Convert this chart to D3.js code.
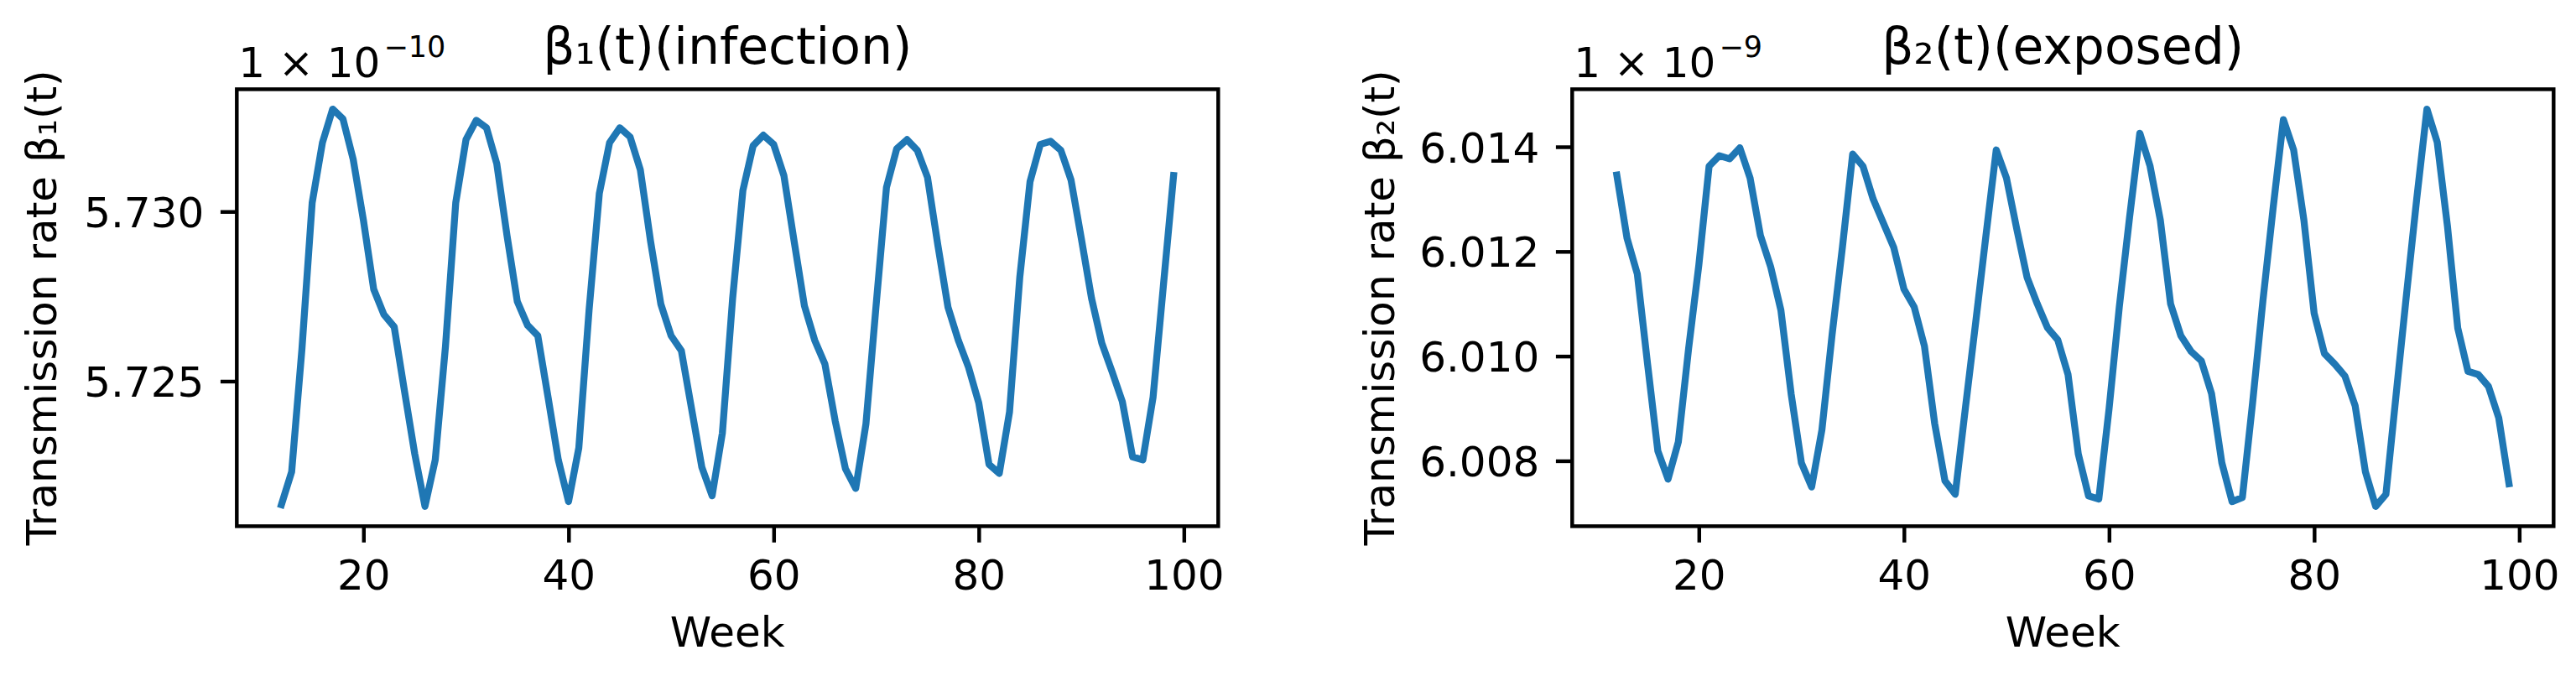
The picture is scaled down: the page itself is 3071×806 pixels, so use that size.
<!DOCTYPE html>
<html>
<head>
<meta charset="utf-8">
<script src="https://cdn.jsdelivr.net/npm/d3@7"></script>
<style>
  body { margin: 0; background: #fff; }
  svg { display: block; }
  text { font-family: "DejaVu Sans", sans-serif; fill: #000; }
</style>
</head>
<body>
<div id="chart"></div>
<script>
const weeks = [12, 13, 14, 15, 16, 17, 18, 19, 20, 21, 22, 23, 24, 25, 26, 27, 28, 29, 30,
  31, 32, 33, 34, 35, 36, 37, 38, 39, 40, 41, 42, 43, 44, 45, 46, 47, 48, 49, 50,
  51, 52, 53, 54, 55, 56, 57, 58, 59, 60, 61, 62, 63, 64, 65, 66, 67, 68, 69, 70,
  71, 72, 73, 74, 75, 76, 77, 78, 79, 80, 81, 82, 83, 84, 85, 86, 87, 88, 89, 90,
  91, 92, 93, 94, 95, 96, 97, 98, 99];

// beta1 in units of 1e-10
const beta1 = [5.72136, 5.72233, 5.72594, 5.73026, 5.73203, 5.73302, 5.73273, 5.73154, 5.72974,
  5.72771, 5.72696, 5.72660, 5.72471, 5.72286, 5.72131, 5.72268, 5.72603, 5.73026, 5.73212,
  5.73269, 5.73247, 5.73141, 5.72929, 5.72735, 5.72665, 5.72634, 5.72453, 5.72268, 5.72145,
  5.72303, 5.72709, 5.73053, 5.73203, 5.73247, 5.73220, 5.73123, 5.72912, 5.72727, 5.72634,
  5.72590, 5.72418, 5.72246, 5.72162, 5.72347, 5.72744, 5.73062, 5.73194, 5.73225, 5.73198,
  5.73106, 5.72912, 5.72722, 5.72621, 5.72550, 5.72383, 5.72242, 5.72184, 5.72374, 5.72727,
  5.73071, 5.73185, 5.73212, 5.73181, 5.73101, 5.72903, 5.72718, 5.72621, 5.72541, 5.72436,
  5.72255, 5.72228, 5.72409, 5.72806, 5.73088, 5.73198, 5.73207, 5.73181, 5.73093, 5.72921,
  5.72744, 5.72612, 5.72528, 5.72440, 5.72277, 5.72268, 5.72453, 5.72780, 5.73106];

// beta2 in units of 1e-9
const beta2 = [6.01346, 6.01225, 6.01157, 6.00985, 6.00819, 6.00765, 6.00836, 6.01014, 6.01174,
  6.01363, 6.01383, 6.01377, 6.01398, 6.01340, 6.01231, 6.01171, 6.01088, 6.00928, 6.00796,
  6.00750, 6.00859, 6.01042, 6.01208, 6.01386, 6.01363, 6.01300, 6.01254, 6.01208, 6.01128,
  6.01094, 6.01019, 6.00871, 6.00762, 6.00736, 6.00902, 6.01065, 6.01231, 6.01394, 6.01340,
  6.01243, 6.01151, 6.01100, 6.01054, 6.01031, 6.00965, 6.00813, 6.00733, 6.00727, 6.00899,
  6.01094, 6.01265, 6.01426, 6.01363, 6.01260, 6.01100, 6.01039, 6.01009, 6.00991, 6.00928,
  6.00796, 6.00722, 6.00730, 6.00911, 6.01105, 6.01283, 6.01452, 6.01394, 6.01260, 6.01082,
  6.01005, 6.00985, 6.00962, 6.00905, 6.00779, 6.00713, 6.00736, 6.00928, 6.01117, 6.01300,
  6.01472, 6.01409, 6.01248, 6.01054, 6.00971, 6.00965, 6.00942, 6.00882, 6.00756];

const weekTicks = [20, 40, 60, 80, 100];
const beta1Ticks = [5.725, 5.730];
const beta2Ticks = [6.008, 6.010, 6.012, 6.014];
const titles = ["β₁(t)(infection)", "β₂(t)(exposed)"];
const yLabels = ["Transmission rate β₁(t)", "Transmission rate β₂(t)"];
const exponents = ["−10", "−9"];

const W = 3071, H = 806;
const axW = 1170, axH = 521, axTop = 106.4;
const spineW = 4.44, tickLen = 19.4;

const svg = d3.select("#chart").append("svg")
  .attr("width", W)
  .attr("height", H)
  .style("background", "#fff");

function pad(ext) {
  const r = ext[1] - ext[0];
  return [ext[0] - 0.05 * r, ext[1] + 0.05 * r];
}

function drawPanel(left, values, yTicks, title, yLabel, expo, labelX) {
  const g = svg.append("g").attr("transform", "translate(" + left + "," + axTop + ")");

  const x = d3.scaleLinear().domain(pad(d3.extent(weeks))).range([0, axW]);
  const y = d3.scaleLinear().domain(pad(d3.extent(values))).range([axH, 0]);

  const line = d3.line()
    .x((d, i) => x(weeks[i]))
    .y(d => y(d));

  g.append("path")
    .datum(values)
    .attr("d", line)
    .attr("fill", "none")
    .attr("stroke", "#1f77b4")
    .attr("stroke-width", 8.3)
    .attr("stroke-linejoin", "round")
    .attr("stroke-linecap", "square");

  const xAxis = g.append("g")
    .attr("transform", "translate(0," + axH + ")")
    .call(d3.axisBottom(x).tickValues(weekTicks).tickSize(tickLen).tickSizeOuter(0).tickFormat(d3.format("d")));
  xAxis.select(".domain").remove();
  xAxis.selectAll("line").attr("stroke", "#000").attr("stroke-width", spineW);
  xAxis.selectAll("text")
    .attr("y", 76).attr("dy", null)
    .attr("font-size", 50).attr("font-family", "DejaVu Sans").attr("fill", "#000");

  const yAxis = g.append("g")
    .call(d3.axisLeft(y).tickValues(yTicks).tickSize(tickLen).tickSizeOuter(0).tickFormat(d3.format(".3f")));
  yAxis.select(".domain").remove();
  yAxis.selectAll("line").attr("stroke", "#000").attr("stroke-width", spineW);
  yAxis.selectAll("text")
    .attr("x", -39).attr("dy", "0.36em")
    .attr("font-size", 50).attr("font-family", "DejaVu Sans").attr("fill", "#000");

  g.append("rect")
    .attr("width", axW)
    .attr("height", axH)
    .attr("fill", "none")
    .attr("stroke", "#000")
    .attr("stroke-width", spineW);

  // offset text (multiplier)
  const off = g.append("text")
    .attr("x", 2)
    .attr("y", 91.5 - axTop)
    .attr("font-size", 50);
  off.append("tspan").text("1 × 10");
  off.append("tspan").attr("dy", -24).attr("dx", 4).attr("font-size", 35).text(expo);

  g.append("text")
    .attr("x", axW / 2)
    .attr("y", 76 - axTop)
    .attr("text-anchor", "middle")
    .attr("font-size", 60)
    .text(title);

  g.append("text")
    .attr("x", axW / 2)
    .attr("y", 771 - axTop)
    .attr("text-anchor", "middle")
    .attr("font-size", 50)
    .text("Week");

  svg.append("text")
    .attr("transform", "translate(" + labelX + "," + (axTop + axH / 2) + ") rotate(-90)")
    .attr("text-anchor", "middle")
    .attr("font-size", 50)
    .text(yLabel);
}

drawPanel(282.3, beta1, beta1Ticks, titles[0], yLabels[0], exponents[0], 66.5);
drawPanel(1874.3, beta2, beta2Ticks, titles[1], yLabels[1], exponents[1], 1661.5);
</script>
</body>
</html>
